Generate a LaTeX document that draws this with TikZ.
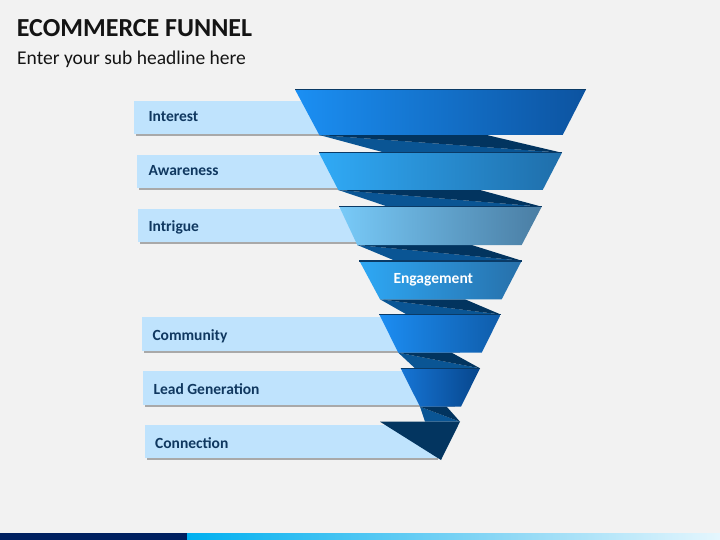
\documentclass[tikz,border=0pt]{standalone}
\usepackage{fontspec}
\setmainfont{Carlito}
\definecolor{bg}{HTML}{F2F2F2}
\definecolor{boxfill}{HTML}{BFE3FD}
\definecolor{boxshadow}{HTML}{A9A9A9}
\definecolor{labtext}{HTML}{103860}
\definecolor{folddark}{HTML}{02345F}
\definecolor{foldmid}{HTML}{0A5594}
\definecolor{edgedark}{HTML}{0A3A66}
\definecolor{s1l}{HTML}{1B8FF3}
\definecolor{s1r}{HTML}{0C53A0}
\definecolor{s2l}{HTML}{30AAF6}
\definecolor{s2r}{HTML}{1F6EAA}
\definecolor{s3l}{HTML}{7ACCF8}
\definecolor{s3l}{HTML}{78CAF8}
\definecolor{s3r}{HTML}{4A7DA3}
\definecolor{s4l}{HTML}{2EA8F5}
\definecolor{s4r}{HTML}{2770AA}
\definecolor{s5l}{HTML}{1C8DF2}
\definecolor{s5r}{HTML}{0F5CAA}
\definecolor{s6l}{HTML}{1675D5}
\definecolor{s6r}{HTML}{07468C}
\definecolor{tri}{HTML}{033560}
\definecolor{navy}{HTML}{002060}
\definecolor{barA}{HTML}{0066BB}
\definecolor{barB}{HTML}{00B0F0}
\definecolor{barC}{HTML}{8ED8F5}
\definecolor{barD}{HTML}{F2FBFF}
\definecolor{barE}{HTML}{3A96D4}
\pgfdeclarehorizontalshading{barshade}{100bp}{color(0bp)=(barA); color(25bp)=(barB); color(55bp)=(barC); color(78bp)=(barD); color(100bp)=(barE)}
\tikzset{
  lab/.style={anchor=base west, inner sep=0pt, text=labtext, font=\fontsize{15.5}{18}\selectfont\bfseries},
  labbox/.style={fill=boxfill, draw=none},
  labshadow/.style={fill=boxshadow, draw=none},
  topedge/.style={draw=edgedark, line width=1.6pt, line cap=butt},
}
\begin{document}
\begin{tikzpicture}[x=1pt,y=-1pt]
\useasboundingbox (0,0) rectangle (720,540);
\fill[bg] (0,0) rectangle (720,540);
% bottom bar
\fill[navy] (0,533) rectangle (187,540);
\shade[shading=barshade] (187,533) rectangle (720,540);
% title
\node[anchor=base west, inner sep=0pt, font=\fontsize{26}{30}\selectfont\bfseries, text=black!92] (title) at (16.7,36.7) {ECOMMERCE FUNNEL};
\node[anchor=base west, inner sep=0pt, font=\fontsize{19.5}{22}\selectfont, text=black!92] (subtitle) at (17,65) {Enter your sub headline here};
% label boxes
\foreach \xl/\xr/\yt/\yb in {134/400/100.7/134.3, 137.3/420/155/188.3, 138.3/440/209/241.7, 141.7/460/317.3/350.7, 142.7/455/371/405, 145/438/425/458.3}{
  \fill[labshadow] (\xl+2,\yt+2) rectangle (\xr,\yb+2);
  \fill[labbox] (\xl,\yt) rectangle (\xr,\yb);
}
% folds between slabs
\foreach \ax/\bx/\yt/\dx/\cx/\yb in {319.3/486.7/135/385/561.7/152.7, 338.3/480/190/388/541.7/206.7, 357.3/471.7/245/395/521.7/260.7, 380/465/299.3/406.7/500.7/314.5, 398.3/451.7/352.7/415/480/368.3, 420/446.7/406.7/425/460/421.7}{
  \fill[foldmid] (\ax,\yt) -- (\cx,\yb) -- (\dx,\yb) -- cycle;
  \fill[folddark] (\ax,\yt) -- (\bx,\yt) -- (\cx,\yb) -- cycle;
}
% slabs
\foreach \tl/\tr/\yt/\bl/\br/\yb/\cl/\cr in {295/586/89.5/319.3/562.7/135/s1l/s1r, 319/562/152.7/338.3/542.7/190/s2l/s2r, 339.3/541.7/206.7/357.3/521.7/245/s3l/s3r, 359.3/521.7/260.7/380/501.7/299.3/s4l/s4r, 379.3/500.7/314.5/398.3/481.7/352.7/s5l/s5r, 400.7/480/368.3/420/461/406.7/s6l/s6r}{
  \shade[left color=\cl, right color=\cr] (\tl,\yt) -- (\tr,\yt) -- (\br,\yb) -- (\bl,\yb) -- cycle;
  \draw[topedge] (\tl,\yt) -- (\tr,\yt);
}
% bottom triangle
\fill[tri] (380,421.7) -- (460,421.7) -- (441,460) -- cycle;
% labels
\node[lab] (interest) at (148.3,121.7) {Interest};
\node[lab] (awareness) at (148.3,175.7) {Awareness};
\node[lab] (intrigue) at (148.3,231.7) {Intrigue};
\node[anchor=base, inner sep=0pt, text=white, font=\fontsize{15.5}{18}\selectfont\bfseries] (engagement) at (433.3,283.3) {Engagement};
\node[lab] (community) at (152.3,340) {Community};
\node[lab] (leadgen) at (153.3,394) {Lead Generation};
\node[lab] (connection) at (155,448.3) {Connection};
\end{tikzpicture}
\end{document}
